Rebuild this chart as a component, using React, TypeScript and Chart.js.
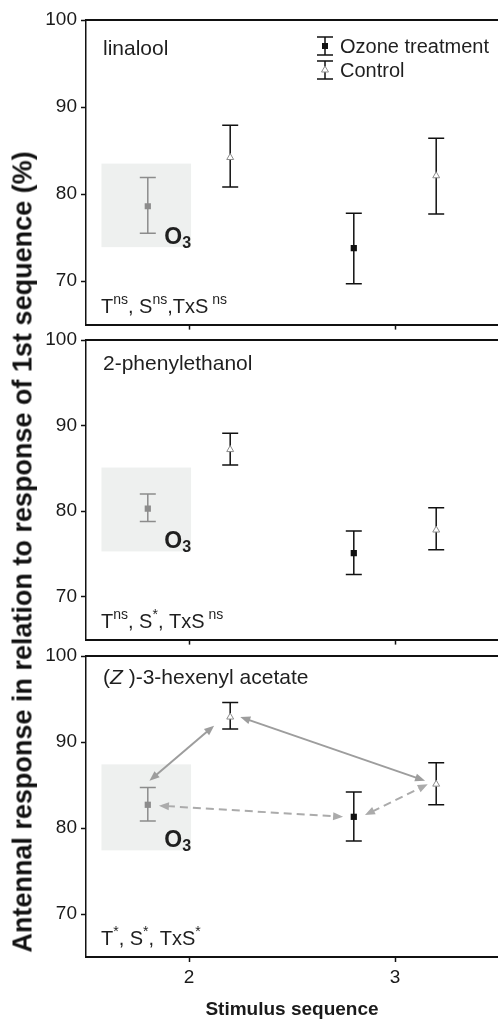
import React, { useEffect, useRef } from 'react';
import { Chart, registerables } from 'chart.js';

Chart.register(...registerables);

const FONT = '"Liberation Sans", Arial, Helvetica, sans-serif';

// ---------------- data ----------------
const stimulusSequence = [2, 3];
const xTickValues = [2, 3];
const yTickValues = [70, 80, 90, 100];
const seriesNames = ['Ozone treatment', 'Control'];
const yAxisTitle = 'Antennal response in relation to response of 1st sequence (%)';
const xAxisTitle = 'Stimulus sequence';

type Seg = { t: string; sup?: boolean; italic?: boolean };

const compoundNames: Seg[][] = [
  [{ t: 'linalool' }],
  [{ t: '2-phenylethanol' }],
  [{ t: '(' }, { t: 'Z', italic: true }, { t: ' )-3-hexenyl acetate' }],
];

const statLabels: Seg[][] = [
  [{ t: 'T' }, { t: 'ns', sup: true }, { t: ', S' }, { t: 'ns', sup: true }, { t: ',TxS' }, { t: ' ns', sup: true }],
  [{ t: 'T' }, { t: 'ns', sup: true }, { t: ', S' }, { t: '*', sup: true }, { t: ', TxS' }, { t: ' ns', sup: true }],
  [{ t: 'T' }, { t: '*', sup: true }, { t: ', S' }, { t: '*', sup: true }, { t: ', TxS' }, { t: '*', sup: true }],
];

// linalool
const linaloolOzoneMean = [78.6, 73.8];
const linaloolOzoneLow = [75.5, 69.7];
const linaloolOzoneHigh = [81.9, 77.8];
const linaloolControlMean = [84.2, 82.1];
const linaloolControlLow = [80.8, 77.7];
const linaloolControlHigh = [87.9, 86.4];

// 2-phenylethanol
const phenylOzoneMean = [80.3, 75.1];
const phenylOzoneLow = [78.8, 72.6];
const phenylOzoneHigh = [82.0, 77.7];
const phenylControlMean = [87.2, 77.8];
const phenylControlLow = [85.4, 75.5];
const phenylControlHigh = [89.1, 80.4];

// (Z)-3-hexenyl acetate
const hexenylOzoneMean = [82.7, 81.3];
const hexenylOzoneLow = [80.8, 78.5];
const hexenylOzoneHigh = [84.7, 84.2];
const hexenylControlMean = [92.9, 85.1];
const hexenylControlLow = [91.5, 82.7];
const hexenylControlHigh = [94.6, 87.6];

// O3 exposure shaded box (data coordinates)
const o3BoxX = [1.575, 2.01];
const o3BoxY = [
  [73.9, 83.5],
  [75.3, 85.1],
  [77.4, 87.4],
];

// comparison arrows in the hexenyl acetate panel: [x0, y0, x1, y1]
const hexenylArrowsSolid = [
  [1.808, 85.5, 2.122, 91.9],
  [2.249, 92.9, 3.146, 85.5],
];
const hexenylArrowsDashed = [
  [1.854, 82.6, 2.748, 81.3],
  [2.854, 81.5, 3.159, 85.1],
];

// ---------------- layout / style ----------------
const W = 498;
const H = 1022;
const PLOT_LEFT = 86;
const OZONE_OFFSET = -0.2;
const CONTROL_OFFSET = 0.2;
const CAP = 8;
const DARK = '#111111';
const GREY_BAR = '#8c8c8c';

type PanelSpec = {
  name: Seg[];
  stats: Seg[];
  oMean: number[];
  oLow: number[];
  oHigh: number[];
  cMean: number[];
  cLow: number[];
  cHigh: number[];
  box: number[];
  solid: number[][];
  dashed: number[][];
  top: number;
  bottom: number;
  nameOffset: number;
  legend: boolean;
  last: boolean;
};

const panels: PanelSpec[] = [
  {
    name: compoundNames[0], stats: statLabels[0],
    oMean: linaloolOzoneMean, oLow: linaloolOzoneLow, oHigh: linaloolOzoneHigh,
    cMean: linaloolControlMean, cLow: linaloolControlLow, cHigh: linaloolControlHigh,
    box: o3BoxY[0], solid: [], dashed: [],
    top: 20, bottom: 327, nameOffset: 35, legend: true, last: false,
  },
  {
    name: compoundNames[1], stats: statLabels[1],
    oMean: phenylOzoneMean, oLow: phenylOzoneLow, oHigh: phenylOzoneHigh,
    cMean: phenylControlMean, cLow: phenylControlLow, cHigh: phenylControlHigh,
    box: o3BoxY[1], solid: [], dashed: [],
    top: 340, bottom: 642, nameOffset: 30, legend: false, last: false,
  },
  {
    name: compoundNames[2], stats: statLabels[2],
    oMean: hexenylOzoneMean, oLow: hexenylOzoneLow, oHigh: hexenylOzoneHigh,
    cMean: hexenylControlMean, cLow: hexenylControlLow, cHigh: hexenylControlHigh,
    box: o3BoxY[2], solid: hexenylArrowsSolid, dashed: hexenylArrowsDashed,
    top: 656, bottom: 957, nameOffset: 28, legend: false, last: true,
  },
];

function drawSegs(ctx: CanvasRenderingContext2D, segs: Seg[], x: number, baseline: number, size: number, supSize: number, supRaise: number) {
  let cx = x;
  for (const s of segs) {
    const fs = s.sup ? supSize : size;
    ctx.font = `${s.italic ? 'italic ' : ''}${fs}px ${FONT}`;
    ctx.fillText(s.t, cx, s.sup ? baseline - supRaise : baseline);
    cx += ctx.measureText(s.t).width;
  }
}

function drawErrorBar(ctx: CanvasRenderingContext2D, px: number, yh: number, yl: number, color: string) {
  ctx.strokeStyle = color;
  ctx.lineWidth = 1.5;
  ctx.beginPath();
  ctx.moveTo(px, yh);
  ctx.lineTo(px, yl);
  ctx.moveTo(px - CAP, yh);
  ctx.lineTo(px + CAP, yh);
  ctx.moveTo(px - CAP, yl);
  ctx.lineTo(px + CAP, yl);
  ctx.stroke();
}

function drawHead(ctx: CanvasRenderingContext2D, x: number, y: number, ang: number, color: string) {
  const L = 10;
  const hw = 4;
  ctx.fillStyle = color;
  ctx.beginPath();
  ctx.moveTo(x, y);
  ctx.lineTo(x - L * Math.cos(ang) + hw * Math.sin(ang), y - L * Math.sin(ang) - hw * Math.cos(ang));
  ctx.lineTo(x - L * Math.cos(ang) - hw * Math.sin(ang), y - L * Math.sin(ang) + hw * Math.cos(ang));
  ctx.closePath();
  ctx.fill();
}

function drawArrow(ctx: CanvasRenderingContext2D, x0: number, y0: number, x1: number, y1: number, color: string, dashed: boolean) {
  const ang = Math.atan2(y1 - y0, x1 - x0);
  const s = 8;
  ctx.save();
  ctx.strokeStyle = color;
  ctx.lineWidth = 2;
  ctx.setLineDash(dashed ? [8, 5] : []);
  ctx.beginPath();
  ctx.moveTo(x0 + s * Math.cos(ang), y0 + s * Math.sin(ang));
  ctx.lineTo(x1 - s * Math.cos(ang), y1 - s * Math.sin(ang));
  ctx.stroke();
  ctx.setLineDash([]);
  drawHead(ctx, x1, y1, ang, color);
  drawHead(ctx, x0, y0, ang + Math.PI, color);
  ctx.restore();
}

function makePlugin(p: PanelSpec, idx: number) {
  return {
    id: 'panelDecor' + idx,
    beforeDatasetsDraw(chart: any) {
      const { ctx, scales } = chart;
      const x = scales.x;
      const y = scales.y;
      ctx.save();
      // shaded O3 box
      const bx0 = x.getPixelForValue(o3BoxX[0]);
      const bx1 = x.getPixelForValue(o3BoxX[1]);
      const byTop = y.getPixelForValue(p.box[1]);
      const byBot = y.getPixelForValue(p.box[0]);
      ctx.fillStyle = '#eef0ef';
      ctx.fillRect(bx0, byTop, bx1 - bx0, byBot - byTop);
      // arrows
      p.solid.forEach((a) => {
        drawArrow(ctx, x.getPixelForValue(a[0]), y.getPixelForValue(a[1]), x.getPixelForValue(a[2]), y.getPixelForValue(a[3]), '#9d9d9d', false);
      });
      p.dashed.forEach((a) => {
        drawArrow(ctx, x.getPixelForValue(a[0]), y.getPixelForValue(a[1]), x.getPixelForValue(a[2]), y.getPixelForValue(a[3]), '#ababab', true);
      });
      // error bars
      const mo = chart.getDatasetMeta(0);
      mo.data.forEach((pt: any, j: number) => {
        drawErrorBar(ctx, pt.x, y.getPixelForValue(p.oHigh[j]), y.getPixelForValue(p.oLow[j]), j === 0 ? GREY_BAR : DARK);
      });
      const mc = chart.getDatasetMeta(1);
      mc.data.forEach((pt: any, j: number) => {
        drawErrorBar(ctx, pt.x, y.getPixelForValue(p.cHigh[j]), y.getPixelForValue(p.cLow[j]), DARK);
      });
      ctx.restore();
    },
    afterDraw(chart: any) {
      const { ctx, chartArea, scales } = chart;
      const x = scales.x;
      const y = scales.y;
      ctx.save();
      // top frame line
      ctx.strokeStyle = DARK;
      ctx.lineWidth = 2;
      ctx.beginPath();
      ctx.moveTo(chartArea.left - 0.75, chartArea.top);
      ctx.lineTo(chartArea.right, chartArea.top);
      ctx.stroke();

      ctx.fillStyle = '#1f1f1f';
      ctx.textBaseline = 'alphabetic';
      ctx.textAlign = 'left';
      // compound name
      drawSegs(ctx, p.name, chartArea.left + 17, chartArea.top + p.nameOffset, 21, 14, 9);
      // statistics
      drawSegs(ctx, p.stats, chartArea.left + 15, chartArea.bottom - 12, 20, 14, 9);

      // O3 label
      const bx1 = x.getPixelForValue(o3BoxX[1]);
      const byBot = y.getPixelForValue(p.box[0]);
      ctx.font = `bold 16px ${FONT}`;
      const w3 = ctx.measureText('3').width;
      ctx.font = `bold 23px ${FONT}`;
      const wO = ctx.measureText('O').width;
      const ox = bx1 - w3 - wO;
      const oy = byBot - 3;
      ctx.fillText('O', ox, oy);
      ctx.font = `bold 16px ${FONT}`;
      ctx.fillText('3', ox + wO, oy + 4);

      // legend
      if (p.legend) {
        const ix = chartArea.left + 239;
        const tx = chartArea.left + 254;
        const rows = [chartArea.top + 26, chartArea.top + 50];
        // ozone icon
        drawErrorBar(ctx, ix, rows[0] - 9, rows[0] + 9, DARK);
        ctx.fillStyle = DARK;
        ctx.fillRect(ix - 3, rows[0] - 3, 6, 6);
        // control icon
        drawErrorBar(ctx, ix, rows[1] - 9, rows[1] + 9, DARK);
        ctx.fillStyle = '#ffffff';
        ctx.strokeStyle = '#8c8c8c';
        ctx.lineWidth = 1;
        ctx.beginPath();
        ctx.moveTo(ix, rows[1] - 4);
        ctx.lineTo(ix + 3.5, rows[1] + 2);
        ctx.lineTo(ix - 3.5, rows[1] + 2);
        ctx.closePath();
        ctx.fill();
        ctx.stroke();
        ctx.fillStyle = '#1f1f1f';
        ctx.font = `20px ${FONT}`;
        ctx.textBaseline = 'middle';
        ctx.fillText(seriesNames[0], tx, rows[0] + 1);
        ctx.fillText(seriesNames[1], tx, rows[1] + 1);
      }
      ctx.restore();
    },
  };
}

function Panel({ p, idx }: { p: PanelSpec; idx: number }) {
  const ref = useRef<HTMLCanvasElement>(null);
  const canvasTop = p.top - 20;
  const xAxisH = p.last ? H - p.bottom : 13;
  const canvasH = (p.last ? H : p.bottom + 13) - canvasTop;

  useEffect(() => {
    const canvas = ref.current;
    if (!canvas) return;
    const ozoneData = stimulusSequence.map((s, j) => ({ x: s + OZONE_OFFSET, y: p.oMean[j] }));
    const controlData = stimulusSequence.map((s, j) => ({ x: s + CONTROL_OFFSET, y: p.cMean[j] }));
    const chart = new Chart(canvas, {
      type: 'scatter',
      data: {
        datasets: [
          {
            label: seriesNames[0],
            data: ozoneData,
            pointStyle: 'rect',
            pointRadius: 4.4,
            pointBorderWidth: 0,
            pointBackgroundColor: [GREY_BAR, DARK],
            pointBorderColor: [GREY_BAR, DARK],
            showLine: false,
          },
          {
            label: seriesNames[1],
            data: controlData,
            pointStyle: 'triangle',
            pointRadius: 4,
            pointBorderWidth: 1,
            pointBackgroundColor: '#ffffff',
            pointBorderColor: '#8c8c8c',
            showLine: false,
          },
        ],
      },
      options: {
        animation: false,
        responsive: false,
        maintainAspectRatio: false,
        devicePixelRatio: 1,
        events: [],
        layout: { autoPadding: false, padding: { top: 20, left: 0, right: 0, bottom: 0 } },
        plugins: { legend: { display: false }, tooltip: { enabled: false } },
        scales: {
          x: {
            type: 'linear',
            min: 1.5,
            max: 3.5,
            afterBuildTicks: (s: any) => {
              s.ticks = xTickValues.map((v) => ({ value: v }));
            },
            afterFit: (s: any) => {
              s.height = xAxisH;
            },
            grid: { display: true, drawOnChartArea: false, drawTicks: true, tickLength: 5, tickWidth: 1.5, tickColor: DARK, color: DARK },
            border: { display: true, color: DARK, width: 2 },
            ticks: {
              display: p.last,
              color: '#1a1a1a',
              padding: 4,
              font: { family: FONT, size: 19 },
            },
            title: {
              display: p.last,
              text: xAxisTitle,
              color: '#1a1a1a',
              font: { family: FONT, size: 19, weight: 'bold' },
              padding: { top: 0, bottom: 1 },
            },
          },
          y: {
            type: 'linear',
            min: 65,
            max: 100,
            afterBuildTicks: (s: any) => {
              s.ticks = yTickValues.map((v) => ({ value: v }));
            },
            afterFit: (s: any) => {
              s.width = PLOT_LEFT;
            },
            grid: { display: true, drawOnChartArea: false, drawTicks: true, tickLength: 5, tickWidth: 1.5, tickColor: DARK, color: DARK },
            border: { display: true, color: DARK, width: 1.5 },
            ticks: {
              color: '#1a1a1a',
              padding: 4,
              font: { family: FONT, size: 19 },
            },
          },
        },
      } as any,
      plugins: [makePlugin(p, idx)],
    });
    return () => chart.destroy();
  }, []);

  return (
    <canvas
      ref={ref}
      width={W}
      height={canvasH}
      style={{ position: 'absolute', left: 0, top: canvasTop, width: W, height: canvasH }}
    />
  );
}

export default function App() {
  return (
    <div
      style={{
        position: 'fixed',
        left: 0,
        top: 0,
        width: W,
        height: H,
        overflow: 'hidden',
        background: '#ffffff',
      }}
    >
      {panels.map((p, i) => (
        <Panel key={i} p={p} idx={i} />
      ))}
      <div
        style={{
          position: 'absolute',
          left: 23,
          top: 551.5,
          transform: 'translate(-50%, -50%) rotate(-90deg)',
          whiteSpace: 'nowrap',
          fontFamily: FONT,
          fontWeight: 'bold',
          fontSize: 27,
          lineHeight: '27px',
          color: '#111111',
        }}
      >
        {yAxisTitle}
      </div>
    </div>
  );
}
